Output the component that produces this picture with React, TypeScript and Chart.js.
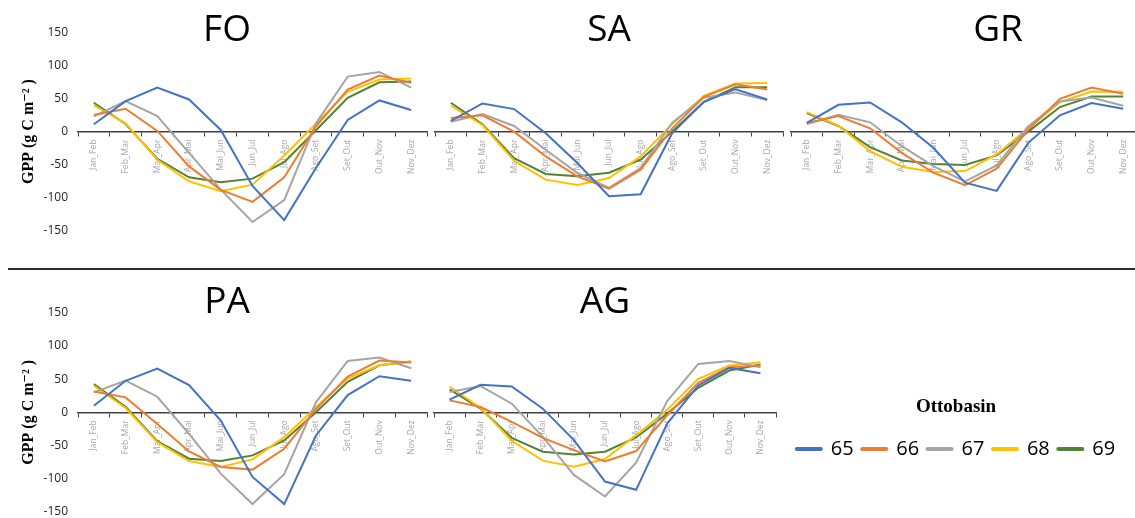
import React, { useEffect, useRef } from 'react';
import { Chart, registerables } from 'chart.js';

Chart.register(...registerables);

// ---------- data ----------
const categories = ['Jan_Feb', 'Feb_Mar', 'Mar_Apr', 'Apr_Mai', 'Mai_Jun', 'Jun_Jul', 'Jul_Ago', 'Ago_Set', 'Set_Out', 'Out_Nov', 'Nov_Dez'];
const seriesNames = ['65', '66', '67', '68', '69'];
const seriesColors = ['#4472C4', '#ED7D31', '#A5A5A5', '#FFC000', '#548235'];
const yTickValues = [-150, -100, -50, 0, 50, 100, 150];
const legendTitle = 'Ottobasin';
const yAxisTitle = 'GPP (g C m\u207B\u00B2 )';

const fo65 = [11, 46, 66.5, 48.5, 2.5, -82, -133.5, -55, 17.5, 47, 32.5];
const fo66 = [25, 34.5, 1, -52.5, -88, -106, -69, 8, 63.5, 84.5, 73.5];
const fo67 = [23, 46, 23.5, -32, -87.5, -136.5, -103.5, 12.5, 83, 90, 66.5];
const fo68 = [39.5, 12.5, -42.5, -75, -90, -80, -36, 12, 60, 78.5, 80];
const fo69 = [43.5, 11.5, -41, -69, -76.5, -71, -46, 2, 51, 74.5, 75.5];

const sa65 = [16, 42.5, 34, -2.5, -47.5, -97.5, -94.5, -2, 45, 64, 48.5];
const sa66 = [20.5, 24.5, 0, -37.5, -67.5, -86, -57.5, 5, 52.5, 71.5, 63.5];
const sa67 = [15, 26.5, 8.5, -27.5, -62.5, -85, -55, 13.5, 51, 59, 47.5];
const sa68 = [39, 10, -44, -72.5, -80.5, -70, -37.5, 11.5, 54, 72.5, 73.5];
const sa69 = [43.5, 11, -40, -64, -67.5, -62, -42.5, 0, 45, 67, 67];

const gr65 = [13, 40.5, 44, 14, -24.5, -77, -89.5, -17, 24.5, 43, 34.5];
const gr66 = [13, 23.5, 5, -32, -62, -81, -56, 3, 49.5, 66.5, 57];
const gr67 = [11.5, 25.5, 14, -22, -52, -75, -51, 8, 45.5, 51.5, 39];
const gr68 = [29.5, 9, -29.5, -53, -61, -59.5, -34.5, 5.5, 44.5, 60.5, 60];
const gr69 = [28, 8.5, -23.5, -43.5, -49, -50.5, -36, 0, 37, 53, 53];

const pa65 = [10, 47.5, 66, 41, -12.5, -97.5, -138.5, -35, 26, 54.5, 47.5];
const pa66 = [31.5, 22.5, -17.5, -59, -82.5, -86.5, -55, 5, 54, 78, 75];
const pa67 = [30, 48, 23.5, -32.5, -92.5, -138.5, -93.5, 15, 77.5, 82.5, 66.5];
const pa68 = [40, 6.5, -45, -73.5, -82.5, -71, -37.5, 7.5, 51, 71, 76.5];
const pa69 = [42.5, 8.5, -43.5, -70, -73.5, -65, -42.5, 0, 46, 71, 76.5];

const ag65 = [19, 41.5, 39, 5.5, -42, -104.5, -117, -17, 40.5, 67, 59];
const ag66 = [18, 8, -14.5, -38.5, -57, -74, -58.5, -4.5, 44.5, 68, 70.5];
const ag67 = [30.5, 39.5, 13, -37, -94.5, -127, -76, 17, 73, 77.5, 68];
const ag68 = [39, 6.5, -43, -73, -82, -70.5, -34.5, 4, 50.5, 70.5, 75.5];
const ag69 = [34.5, 5.5, -38.5, -59.5, -63.5, -59.5, -38, -2, 37, 63, 72];

// ---------- layout (positions / styles) ----------
type PanelCfg = {
  name: string;
  series: number[][];
  left: number; top: number; width: number; height: number;
  pad: { left: number; right: number; top: number; bottom: number };
  titlePad: { top: number; bottom: number };
  yLabels: boolean;
  rightBox: number;
};

const TOP_TITLE_PAD = { top: 8.2, bottom: -20.4 };
const BOTTOM_TITLE_PAD = { top: 9.9, bottom: -11.4 };

const panels: PanelCfg[] = [
  { name: 'FO', series: [fo65, fo66, fo67, fo68, fo69], left: 0, top: 0, width: 432, height: 268,
    pad: { left: 27, right: 5, top: 0, bottom: 37 }, titlePad: TOP_TITLE_PAD, yLabels: true, rightBox: 0 },
  { name: 'SA', series: [sa65, sa66, sa67, sa68, sa69], left: 430, top: 0, width: 360, height: 268,
    pad: { left: 5, right: 7, top: 0, bottom: 37 }, titlePad: TOP_TITLE_PAD, yLabels: false, rightBox: 0 },
  { name: 'GR', series: [gr65, gr66, gr67, gr68, gr69], left: 785, top: 0, width: 420, height: 268,
    pad: { left: 6, right: 0, top: 0, bottom: 37 }, titlePad: TOP_TITLE_PAD, yLabels: false, rightBox: 66 },
  { name: 'PA', series: [pa65, pa66, pa67, pa68, pa69], left: 0, top: 270, width: 432, height: 248,
    pad: { left: 27, right: 5, top: 0, bottom: 6.3 }, titlePad: BOTTOM_TITLE_PAD, yLabels: true, rightBox: 0 },
  { name: 'AG', series: [ag65, ag66, ag67, ag68, ag69], left: 430, top: 270, width: 360, height: 248,
    pad: { left: 4, right: 14, top: 0, bottom: 6.3 }, titlePad: BOTTOM_TITLE_PAD, yLabels: false, rightBox: 0 },
];

const SANS = "'Open Sans', 'Noto Sans', sans-serif";
const SERIF = "'Liberation Serif', 'DejaVu Serif', serif";

function Panel({ cfg }: { cfg: PanelCfg }) {
  const ref = useRef<HTMLCanvasElement>(null);
  useEffect(() => {
    const canvas = ref.current;
    if (!canvas) return;
    const scales: any = {
      x: {
        type: 'category',
        position: { y: 0 },
        offset: true,
        grid: { display: true, drawOnChartArea: false, drawTicks: true, tickLength: 4, offset: true, color: '#404040', lineWidth: 1 },
        border: { display: true, color: '#404040', width: 1.5 },
        ticks: {
          autoSkip: false, minRotation: 90, maxRotation: 90, padding: 4,
          color: '#a6a6a6', font: { family: SANS, size: 8.5 },
        },
      },
      y: {
        type: 'linear',
        position: 'left',
        display: cfg.yLabels,
        min: yTickValues[0],
        max: yTickValues[yTickValues.length - 1],
        grid: { display: false, drawTicks: true, tickLength: 10 },
        border: { display: false },
        ticks: {
          stepSize: yTickValues[1] - yTickValues[0],
          padding: 0,
          color: '#262626',
          font: { family: SANS, size: 12, lineHeight: 1 },
        },
        title: {
          display: cfg.yLabels,
          text: yAxisTitle,
          color: '#000',
          font: { family: SERIF, size: 16, weight: 'bold', lineHeight: 1.2 },
          padding: { top: -7.6, bottom: 0 },
        },
        afterFit: (s: any) => { if (cfg.yLabels) s.width = 51; },
      },
    };
    if (cfg.rightBox) {
      scales.yr = {
        type: 'linear', axis: 'y', position: 'right', display: true,
        grid: { display: false, drawTicks: false }, border: { display: false },
        ticks: { display: false },
        afterFit: (s: any) => { s.width = cfg.rightBox; },
      };
    }
    const chart = new Chart(canvas, {
      type: 'line',
      data: {
        labels: categories,
        datasets: cfg.series.map((d, i) => ({
          label: seriesNames[i],
          data: d,
          borderColor: seriesColors[i],
          backgroundColor: seriesColors[i],
          borderWidth: 2,
          pointRadius: 0,
          tension: 0,
          fill: false,
          yAxisID: 'y',
        })),
      },
      options: {
        animation: false,
        responsive: false,
        maintainAspectRatio: false,
        layout: { padding: cfg.pad },
        plugins: {
          legend: { display: false },
          tooltip: { enabled: false },
          title: {
            display: true,
            text: cfg.name,
            color: '#000',
            font: { family: SANS, size: 37, weight: 'normal', lineHeight: 1.2 },
            padding: cfg.titlePad,
          },
        },
        scales,
      } as any,
    });
    return () => chart.destroy();
  }, [cfg]);
  return (
    <canvas
      ref={ref}
      width={cfg.width}
      height={cfg.height}
      style={{ position: 'absolute', left: cfg.left, top: cfg.top, width: cfg.width, height: cfg.height }}
    />
  );
}

function LegendChart() {
  const ref = useRef<HTMLCanvasElement>(null);
  useEffect(() => {
    const canvas = ref.current;
    if (!canvas) return;
    const chart = new Chart(canvas, {
      type: 'line',
      data: {
        labels: [],
        datasets: seriesNames.map((n, i) => ({
          label: n, data: [], borderColor: seriesColors[i], backgroundColor: seriesColors[i], borderWidth: 4,
        })),
      },
      options: {
        animation: false,
        responsive: false,
        maintainAspectRatio: false,
        layout: { padding: 0 },
        scales: { x: { display: false }, y: { display: false } },
        plugins: {
          tooltip: { enabled: false },
          title: { display: false },
          legend: {
            display: true,
            position: 'top',
            align: 'center',
            title: {
              display: true,
              text: legendTitle,
              color: '#000',
              font: { family: SERIF, size: 19, weight: 'bold', lineHeight: 1.2 },
              padding: { top: 17.5, bottom: 10.2 },
            },
            labels: {
              usePointStyle: true,
              pointStyle: 'line',
              pointStyleWidth: 24,
              color: '#000',
              padding: 8.5,
              font: { family: SANS, size: 20 },
              generateLabels: () => seriesNames.map((n, i) => ({
                text: n,
                fillStyle: seriesColors[i],
                strokeStyle: seriesColors[i],
                lineWidth: 4,
                lineCap: 'round',
                pointStyle: 'line',
                hidden: false,
                datasetIndex: i,
                fontColor: '#000',
              })),
            },
          },
        },
      } as any,
    });
    return () => chart.destroy();
  }, []);
  return (
    <canvas
      ref={ref}
      width={352}
      height={220}
      style={{ position: 'absolute', left: 780, top: 380, width: 352, height: 220 }}
    />
  );
}

export default function App() {
  return (
    <div style={{ position: 'absolute', left: 0, top: 0, width: 1135, height: 518, overflow: 'hidden', background: '#fff' }}>
      {panels.map((p) => <Panel key={p.name} cfg={p} />)}
      <div style={{ position: 'absolute', left: 8, top: 268, width: 1127, height: 2, background: '#2b2b2b' }} />
      <LegendChart />
    </div>
  );
}
